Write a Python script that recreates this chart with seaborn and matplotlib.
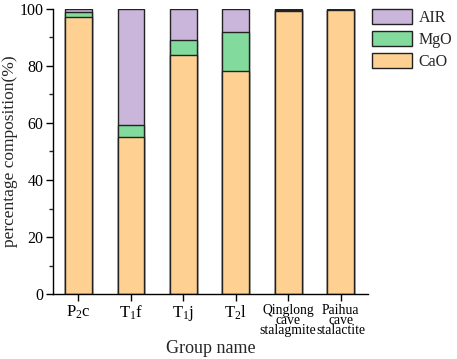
import matplotlib
matplotlib.use('Agg')
import matplotlib.pyplot as plt
import seaborn as sns
import pandas as pd
from matplotlib.ticker import MultipleLocator

# 数据
groups = ['P$_2$c', 'T$_1$f', 'T$_1$j', 'T$_2$l',
          'Qinglong\ncave\nstalagmite', 'Paihua\ncave\nstalactite']
cao = [97.1, 55.2, 84.0, 78.1, 99.2, 99.6]
mgo = [2.0, 4.0, 5.1, 13.9, 0.5, 0.2]
air = [0.9, 40.8, 10.9, 8.0, 0.3, 0.2]

colors = {'AIR': '#CBB6DB', 'MgO': '#82DA9C', 'CaO': '#FED192'}

df = pd.DataFrame({'group': groups, 'CaO': cao, 'MgO': mgo, 'AIR': air})
# 堆叠：先画累计总量，再依次覆盖
df['top_MgO'] = df['CaO'] + df['MgO']
df['top_AIR'] = df['top_MgO'] + df['AIR']

sns.set_style('ticks')
plt.rcParams['font.family'] = ['Liberation Serif', 'DejaVu Serif']
plt.rcParams['mathtext.fontset'] = 'custom'
plt.rcParams['mathtext.rm'] = 'Liberation Serif'
plt.rcParams['mathtext.it'] = 'Liberation Serif:italic'

fig = plt.figure(figsize=(4.57, 3.59), dpi=100)
ax = fig.add_axes([0.116, 0.181, 0.689, 0.794])

for col, name in [('top_AIR', 'AIR'), ('top_MgO', 'MgO'), ('CaO', 'CaO')]:
    sns.barplot(data=df, x='group', y=col, color=colors[name], width=0.51,
                saturation=1, edgecolor='#222222', linewidth=1.0, label=name, ax=ax)

ax.set_xlim(-0.485, 5.52)
ax.set_ylim(0, 100)
ax.yaxis.set_major_locator(MultipleLocator(20))
ax.yaxis.set_minor_locator(MultipleLocator(10))
ax.tick_params(axis='both', direction='out', length=5, width=1, labelsize=11.5, colors='black', pad=2)
ax.tick_params(axis='y', which='minor', length=3, width=1)
ax.tick_params(axis='x', labelsize=12, pad=2)
for lab in ax.get_xticklabels():
    if '\n' in lab.get_text():
        lab.set_fontsize(9.8)
        lab.set_linespacing(0.7)

ax.set_xlabel('Group name', fontsize=13, labelpad=2)
ax.set_ylabel('percentage composition(%)', fontsize=12.5, labelpad=1)
for s in ['top', 'right']:
    ax.spines[s].set_visible(False)
for s in ['left', 'bottom']:
    ax.spines[s].set_linewidth(1.0)
    ax.spines[s].set_color('black')

ax.legend(loc='upper left', bbox_to_anchor=(1.012, 1.0), frameon=False, fontsize=11.5,
          handlelength=2.5, handleheight=1.1, labelspacing=0.3, handletextpad=0.45,
          borderaxespad=0, borderpad=0)

plt.savefig('out.png', dpi=100)
